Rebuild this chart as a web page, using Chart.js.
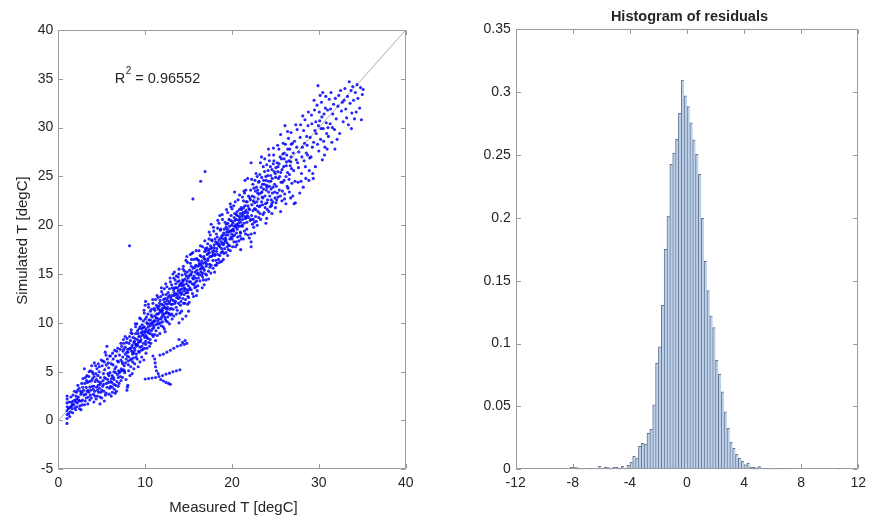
<!DOCTYPE html>
<html><head><meta charset="utf-8">
<script src="https://cdn.jsdelivr.net/npm/chart.js@4.4.0/dist/chart.umd.min.js"></script>
<style>
html,body{margin:0;padding:0;background:#fff;}
#wrap{position:relative;width:871px;height:521px;overflow:hidden;}
canvas{position:absolute;top:0;}
#c1{left:0;} #c2{left:435px;}
</style></head><body>
<div id="wrap">
<canvas id="c1" width="435" height="521"></canvas>
<canvas id="c2" width="436" height="521"></canvas>
</div>
<script>
// ---------- scatter data: [measured T, simulated T] ----------
const lowBand = [
[1.0,-0.3],[1.0,0.2],[1.02,0.6],[1.0,1.0],[1.03,1.4],[1.0,1.8],[1.02,2.2],[1.01,2.5],[1.2,0.7],[1.3,1.3],[1.4,0.9],[1.5,1.9],[1.6,1.2],[1.7,2.6],[1.8,1.6],[1.9,2.1],[2.0,1.1],[2.1,2.9],[2.2,1.8],[2.3,2.4],[2.4,3.3],[2.5,1.5],[2.6,2.7],[2.7,3.8],[2.8,2.1],[2.9,3.1],[1.25,1.9],[1.45,2.4],[1.65,0.8],[1.85,3.0],[2.05,2.5],[2.25,3.6],[2.45,1.2],[2.65,2.0],[2.85,4.3],[2.95,2.6],[1.15,1.2],[1.55,1.5],[2.15,1.4],[2.35,2.1],[2.55,3.0],[2.75,1.6],
[3.0,5.3],[3.1,2.0],[3.2,3.4],[3.3,4.6],[3.4,1.7],[3.5,2.9],[3.6,4.0],[3.7,5.1],[3.8,2.3],[3.9,3.5],[4.0,4.8],[4.1,1.9],[4.2,3.0],[4.3,5.6],[4.4,4.2],[4.5,2.5],[4.6,3.6],[4.7,5.0],[4.8,1.7],[4.9,2.9],[3.15,2.7],[3.35,3.9],[3.55,5.0],[3.75,3.1],[3.95,4.3],[4.15,5.9],[4.35,2.2],[4.55,4.6],[4.75,3.3],[4.95,6.2],[3.05,3.8],[3.45,2.4],[3.65,3.4],[3.85,5.6],[4.05,2.7],[4.25,4.0],[4.45,5.3],[4.65,2.9],[4.85,4.4],[4.9,3.9],[3.25,4.1],[3.7,2.6],[4.1,3.5],[4.6,5.8],[4.8,3.7],
[5.0,2.3],[5.1,3.5],[5.2,4.8],[5.3,6.0],[5.4,7.0],[5.5,2.8],[5.6,7.6],[5.7,4.2],[5.8,5.4],[5.9,3.3],[6.0,6.6],[6.1,2.5],[6.2,4.6],[6.3,5.7],[6.4,3.7],[6.5,7.2],[6.6,4.9],[6.7,3.0],[6.8,6.1],[6.9,4.4],[5.05,5.6],[5.25,3.0],[5.45,4.3],[5.65,6.3],[5.85,2.7],[6.05,4.0],[6.25,6.9],[6.45,3.2],[6.65,5.5],[6.85,7.4],[5.15,4.1],[5.35,5.2],[5.55,3.8],[5.75,5.9],[5.95,4.9],[6.15,3.9],[6.35,4.4],[6.55,2.8],[6.75,4.0],[6.95,5.1],[5.3,2.0],[5.8,3.9],[6.2,3.4],[6.6,6.6],[6.9,3.5],[5.5,6.7],[6.1,5.8],[6.4,5.0],
[7.0,3.8],[7.1,5.0],[7.2,6.2],[7.3,7.6],[7.4,4.4],[7.5,8.3],[7.6,5.6],[7.7,6.8],[7.8,4.2],[7.9,3.1],[7.95,3.4],[8.0,7.3],[8.1,5.1],[8.2,8.6],[8.3,6.2],[8.4,9.3],[8.5,4.8],[8.6,7.0],[8.7,8.0],[8.8,5.8],[8.9,9.6],[7.05,6.7],[7.25,5.3],[7.45,7.1],[7.65,4.9],[7.85,8.0],[8.05,6.1],[8.25,4.6],[8.45,7.5],[8.65,6.4],[8.85,8.4],[7.15,4.5],[7.35,6.0],[7.55,7.3],[7.75,5.9],[7.95,6.6],[8.15,7.9],[8.35,5.5],[8.55,6.8],[8.75,7.4],[8.95,6.5],[7.5,5.2],[7.9,7.0],[8.3,7.3],[8.7,5.3],[8.0,3.6],[7.2,7.9],[8.9,7.8],[8.5,8.9],[7.7,8.6],[8.2,17.9]
];
const lowCore = [
[1.32,0.4],[1.62,1.7],[1.92,1.3],[2.12,2.2],[2.42,2.0],[2.62,1.1],[2.82,3.4],[3.02,1.6],[3.22,2.3],[3.42,3.1],[3.62,2.1],[3.82,4.1],[4.02,3.2],[4.22,2.5],[4.42,3.4],[4.62,4.0],[4.82,2.4],[5.02,3.1],[5.22,3.7],[5.42,2.6],[5.62,3.4],[5.82,4.6],[6.02,3.5],[6.22,2.9],[6.42,4.2],[6.62,3.6],[6.82,4.7],[7.02,4.9],[7.22,4.1],[7.42,5.8],[7.62,5.1],[7.82,6.3],[3.12,4.4],[3.52,4.5],[3.92,5.0],[4.32,4.8],[4.72,5.5],[5.12,6.1],[5.52,5.7],[5.92,6.6],[6.32,6.3],[6.72,7.1],[7.12,7.3],[7.52,7.9],[7.92,8.4],[2.22,3.1],[2.72,2.9],[4.12,4.5],[5.72,4.8],[6.12,4.3],[6.52,5.3],[6.92,6.0],[7.32,5.1],[7.72,7.5],[7.42,6.5],[5.32,4.4],[4.52,3.1],[3.32,3.0],[2.02,1.9],[1.72,2.0],[1.42,1.4]
];
const midBand = [
[9.0,6.8],[9.1,8.3],[9.2,5.5],[9.3,9.4],[9.4,7.5],[9.5,10.4],[9.6,6.5],[9.7,8.8],[9.8,7.9],[9.9,11.0],[10.0,9.2],[10.1,6.9],[10.2,10.0],[10.3,8.4],[10.4,11.6],[10.5,7.6],[10.6,9.7],[10.7,10.8],[10.8,8.8],[10.9,12.0],[9.05,9.9],[9.25,7.1],[9.45,8.6],[9.65,9.8],[9.85,6.2],[10.05,8.1],[10.25,9.1],[10.45,10.3],[10.65,7.9],[10.85,9.4],[9.15,7.7],[9.35,8.1],[9.55,9.0],[9.75,7.3],[9.95,8.5],[10.15,10.6],[10.35,9.6],[10.55,8.9],[10.75,11.4],[10.95,10.1],[9.4,6.0],[9.8,10.2],[10.2,7.4],[10.0,11.8],[10.05,12.2],[10.6,11.2],[9.6,9.4],[10.4,9.0],[10.8,9.9],[9.2,8.9],[9.9,9.6],[10.1,8.7],
[11.0,9.5],[11.1,10.7],[11.2,8.2],[11.3,11.8],[11.4,9.9],[11.5,12.6],[11.6,10.4],[11.7,8.9],[11.8,11.3],[11.9,13.2],[12.0,10.1],[12.1,11.8],[12.2,9.4],[12.3,12.5],[12.4,11.0],[12.5,13.7],[12.6,10.6],[12.7,12.0],[12.8,9.9],[12.9,14.2],[11.05,11.5],[11.25,9.2],[11.45,10.9],[11.65,12.0],[11.85,9.7],[12.05,12.9],[12.25,10.6],[12.45,11.9],[12.65,13.1],[12.85,11.4],[11.15,10.2],[11.35,10.5],[11.55,11.4],[11.75,10.0],[11.95,11.1],[12.15,10.9],[12.35,11.5],[12.55,12.3],[12.75,10.9],[12.95,12.6],[11.2,12.4],[11.6,11.7],[12.0,11.3],[12.4,10.2],[12.8,13.5],[11.9,10.6],[12.3,9.1],[11.4,8.7],[12.6,11.6],[11.8,12.7],[12.2,13.5],
[13.0,11.5],[13.1,12.8],[13.2,15.0],[13.3,10.7],[13.4,13.6],[13.5,12.2],[13.6,14.8],[13.7,11.3],[13.8,13.3],[13.9,15.5],[14.0,12.6],[14.1,14.0],[14.2,11.2],[14.3,13.8],[14.4,15.8],[14.5,12.9],[14.6,14.5],[14.7,16.4],[14.8,13.4],[14.9,11.9],[13.05,13.9],[13.25,12.3],[13.45,14.4],[13.65,13.0],[13.85,12.0],[14.05,13.4],[14.25,14.9],[14.45,13.9],[14.65,12.4],[14.85,15.2],[13.15,11.9],[13.35,13.1],[13.55,13.6],[13.75,14.2],[13.95,13.8],[14.15,12.9],[14.35,12.5],[14.55,15.3],[14.75,14.0],[14.95,14.6],[13.6,10.9],[14.0,11.0],[13.3,14.6],[14.4,14.3],[14.8,16.8],[13.8,14.7],[14.2,13.1],[14.6,13.5],[13.1,10.4],[14.9,13.1],[13.9,10.0],[14.3,10.4],[14.7,10.7],[15.0,11.2],
[15.0,12.6],[15.1,14.2],[15.2,16.1],[15.3,13.4],[15.4,15.2],[15.5,17.2],[15.6,13.9],[15.7,15.7],[15.8,14.6],[15.9,16.6],[16.0,13.3],[16.1,15.1],[16.2,17.4],[16.3,14.3],[16.4,16.0],[16.5,14.9],[16.6,17.8],[16.7,15.6],[16.8,13.9],[16.9,16.5],[15.05,14.8],[15.25,14.9],[15.45,13.0],[15.65,16.5],[15.85,13.7],[16.05,15.8],[16.25,14.9],[16.45,16.8],[16.65,15.1],[16.85,17.3],[15.15,13.6],[15.35,16.5],[15.55,14.5],[15.75,14.1],[15.95,15.4],[16.15,16.4],[16.35,15.5],[16.55,15.8],[16.75,16.8],[16.95,15.0],[15.5,22.7],[16.4,24.5],[16.9,25.5],[15.9,12.8],[16.7,14.4],[15.2,17.0],
[17.0,14.4],[17.1,16.0],[17.2,18.1],[17.3,15.3],[17.4,17.2],[17.5,19.0],[17.6,15.9],[17.7,17.7],[17.8,16.4],[17.9,19.4],[18.0,15.2],[18.1,17.0],[18.2,19.1],[18.3,16.1],[18.4,18.2],[18.5,20.2],[18.6,16.9],[18.7,18.7],[18.8,17.6],[18.9,20.6],[17.05,17.4],[17.25,16.6],[17.45,15.7],[17.65,18.5],[17.85,17.1],[18.05,18.6],[18.25,17.6],[18.45,16.5],[18.65,19.5],[18.85,18.1],[17.15,17.0],[17.35,18.6],[17.55,17.6],[17.75,16.9],[17.95,18.0],[18.15,16.4],[18.35,19.7],[18.55,18.0],[18.75,17.2],[18.95,19.0],[17.6,20.1],[18.2,15.9],[18.8,16.3],[17.3,14.5],[18.6,21.0],
[19.0,16.5],[19.1,18.2],[19.2,20.3],[19.3,17.2],[19.4,19.3],[19.5,21.3],[19.6,18.0],[19.7,19.9],[19.8,17.4],[19.9,21.0],[20.0,18.6],[20.1,20.2],[20.2,22.0],[20.3,19.0],[20.4,17.8],[20.5,21.1],[20.6,19.6],[20.7,22.6],[20.8,18.4],[20.9,20.6],[19.05,19.2],[19.25,18.7],[19.45,17.8],[19.65,20.6],[19.85,19.4],[20.05,19.5],[20.25,20.8],[20.45,19.8],[20.65,18.8],[20.85,21.6],[19.15,17.6],[19.35,20.1],[19.55,19.0],[19.75,18.6],[19.95,20.0],[20.15,18.9],[20.35,20.5],[20.55,20.1],[20.75,20.2],[20.95,19.3],[19.5,16.9],[20.0,21.7],[20.5,18.3],[21.0,17.5],[19.8,22.2],[20.3,23.4],[20.6,21.4],[20.9,19.9],[19.3,18.5],[20.2,19.4]
];
const midCore = [
[8.02,7.0],[8.12,6.5],[8.22,7.4],[8.32,8.2],[8.42,6.3],[8.52,7.7],[8.62,8.5],[8.72,6.9],[8.82,7.2],[8.92,8.9],[9.02,7.8],[9.12,9.2],[9.22,8.0],[9.32,7.0],[9.42,9.6],[9.52,8.3],[9.62,7.6],[9.72,9.1],[9.82,8.7],[9.92,7.4],[10.02,10.4],[10.12,9.4],[10.22,8.5],[10.32,10.9],[10.42,8.0],[10.52,9.9],[10.62,10.3],[10.72,9.2],[10.82,10.6],[10.92,8.6],[11.02,10.2],[11.12,11.3],[11.22,9.8],[11.32,10.9],[11.42,11.6],[11.52,9.5],[11.62,11.0],[11.72,12.3],[11.82,10.4],[11.92,11.9],[12.02,10.8],[12.12,12.4],[12.22,11.6],[12.32,10.4],[12.42,12.9],[12.52,11.4],[12.62,12.6],[12.72,11.0],[12.82,12.2],[12.92,10.8],[13.02,12.4],[13.12,13.6],[13.22,11.4],[13.32,12.8],[13.42,12.0],[13.52,14.0],[13.62,12.6],[13.72,13.6],[13.82,12.5],[13.92,14.3],[14.02,13.9],[14.12,12.2],[14.22,13.5],[14.32,14.4],[14.42,12.0],[14.52,13.6],[14.62,15.0],[14.72,13.1],[14.82,14.3],[14.92,12.7],
[8.07,5.7],[8.57,6.0],[9.07,6.3],[9.57,7.2],[10.07,7.8],[10.57,8.3],[11.07,8.8],[11.57,9.9],[12.07,9.6],[12.57,10.1],[13.07,10.9],[13.57,11.6],[14.07,11.8],[14.57,12.0],[8.37,9.0],[8.87,9.9],[9.37,10.5],[9.87,11.3],[10.37,11.9],[10.87,12.4],[11.37,12.8],[11.87,13.6],[12.37,14.0],[12.87,14.6],[13.37,15.2],[13.87,15.0],[14.37,15.5],[14.87,16.2],
[8.47,7.1],[8.97,7.6],[9.47,8.1],[9.97,9.0],[10.47,9.3],[10.97,9.7],[11.47,10.2],[11.97,11.5],[12.47,11.1],[12.97,11.9],[13.47,12.9],[13.97,13.1],[14.47,13.3],[14.97,13.8],[8.77,8.1],[9.27,8.6],[9.77,9.5],[10.27,9.9],[10.77,10.0],[11.27,10.5],[11.77,11.2],[12.27,12.1],[12.77,12.8],[13.27,13.4],[13.77,12.8],[14.27,14.1],[14.77,14.8],
[15.02,13.4],[15.12,15.4],[15.22,14.2],[15.32,15.8],[15.42,14.0],[15.52,15.6],[15.62,14.8],[15.72,13.6],[15.82,15.9],[15.92,14.3],[16.02,16.5],[16.12,14.6],[16.22,15.9],[16.32,16.9],[16.42,15.2],[16.52,16.3],[16.62,14.7],[16.72,16.1],[16.82,15.4],[16.92,17.6],[17.02,15.8],[17.12,17.7],[17.22,16.4],[17.32,17.5],[17.42,16.0],[17.52,17.9],[17.62,16.8],[17.72,18.4],[17.82,15.6],[17.92,17.4],[18.02,16.9],[18.12,18.3],[18.22,17.3],[18.32,18.8],[18.42,17.0],[18.52,18.5],[18.62,17.8],[18.72,19.6],[18.82,18.9],[18.92,17.3],[19.02,18.0],[19.12,19.6],[19.22,18.4],[19.32,19.8],[19.42,18.2],[19.52,20.2],[19.62,19.3],[19.72,17.9],[19.82,20.5],[19.92,18.8],[20.02,20.4],[20.12,19.6],[20.22,18.3],[20.32,21.2],[20.42,20.0],[20.52,19.2],[20.62,21.0],[20.72,19.9],[20.82,20.9],[20.92,18.9],[21.02,20.3],[21.12,21.6],[21.22,20.6],[21.32,22.5],[21.42,19.4],[21.52,21.3],[21.62,22.4],[21.72,20.3],[21.82,22.0],[21.92,20.8],
[15.07,12.1],[15.57,12.7],[16.07,13.8],[16.57,13.6],[17.07,14.9],[17.57,15.1],[18.07,15.9],[18.57,16.2],[19.07,17.1],[19.57,17.5],[20.07,17.8],[20.57,18.0],[21.07,18.6],[21.57,19.1],[15.37,17.1],[15.87,17.4],[16.37,17.9],[16.87,18.4],[17.37,19.3],[17.87,19.8],[18.37,20.5],[18.87,21.1],[19.37,21.6],[19.87,21.9],[20.37,22.4],[20.87,23.1],[21.37,23.5],
[15.27,15.0],[15.77,15.2],[16.27,16.1],[16.77,16.6],[17.27,17.1],[17.77,17.3],[18.27,18.1],[18.77,18.3],[19.27,19.0],[19.77,19.4],[20.27,19.9],[20.77,20.5],[21.27,21.3],[21.77,21.0],[15.47,14.6],[15.97,15.0],[16.47,15.6],[16.97,16.2],[17.47,16.8],[17.97,17.7],[18.47,17.9],[18.97,18.6],[19.47,19.6],[19.97,19.1],[20.47,20.6],[20.97,21.2],[21.47,20.9]
];
const highBand = [
[21.0,19.2],[21.1,20.9],[21.2,22.9],[21.3,18.6],[21.4,20.2],[21.5,22.0],[21.6,23.6],[21.7,19.6],[21.8,21.3],[21.9,23.0],[22.0,18.7],[22.1,20.5],[22.2,17.8],[22.2,18.3],[22.3,22.1],[22.4,24.2],[22.5,19.8],[22.6,21.7],[22.7,23.5],[22.8,20.4],[22.9,25.0],[21.05,21.8],[21.25,21.1],[21.45,23.3],[21.65,20.8],[21.85,19.0],[22.05,22.8],[22.25,21.0],[22.45,20.6],[22.65,24.6],[22.85,22.4],[21.15,20.0],[21.35,21.8],[21.55,20.7],[21.75,22.4],[21.95,21.7],[22.15,23.6],[22.35,20.1],[22.55,22.9],[22.75,21.6],[22.95,23.3],[22.2,26.4],[21.5,24.6],[21.2,19.9],[22.6,19.2],[21.8,24.8],[22.9,20.0],[22.2,19.1],[21.6,21.5],
[23.0,21.4],[23.1,23.2],[23.2,25.2],[23.3,20.6],[23.4,22.4],[23.5,24.2],[23.6,26.0],[23.7,21.3],[23.8,23.0],[23.9,25.0],[24.0,20.7],[24.1,22.6],[24.2,24.5],[24.3,26.6],[24.4,21.9],[24.5,23.7],[24.6,25.7],[24.7,22.4],[24.8,27.2],[24.9,24.2],[23.05,24.4],[23.25,22.0],[23.45,23.4],[23.65,24.6],[23.85,22.2],[24.05,23.9],[24.25,21.4],[24.45,25.1],[24.65,23.3],[24.85,25.5],[23.15,21.9],[23.35,23.9],[23.55,22.8],[23.75,25.5],[23.95,23.6],[24.15,25.6],[24.35,23.0],[24.55,22.0],[24.75,26.3],[24.95,22.8],[23.4,27.0],[24.2,27.8],[23.9,20.2],[24.6,21.2],[24.0,26.2],
[25.0,21.8],[25.1,24.0],[25.2,26.4],[25.3,22.9],[25.4,27.8],[25.5,25.0],[25.6,21.4],[25.7,26.8],[25.8,23.5],[25.9,28.4],[26.0,24.6],[26.1,30.2],[26.2,22.2],[26.3,27.2],[26.4,25.4],[26.5,28.9],[26.6,23.4],[26.7,26.1],[26.8,29.5],[26.9,24.3],[25.05,25.9],[25.25,28.2],[25.45,23.6],[25.65,24.4],[25.85,27.3],[26.05,22.7],[26.25,26.1],[26.45,23.8],[26.65,27.8],[26.85,25.8],[25.15,22.6],[25.35,24.8],[25.55,27.0],[25.75,22.5],[25.95,26.0],[26.15,28.3],[26.35,24.0],[26.55,26.6],[26.75,22.8],[26.95,28.4],[25.6,29.3],[26.4,29.6],[26.0,26.8],[25.3,26.0],[26.8,27.0],
[27.0,23.0],[27.1,25.6],[27.2,28.6],[27.3,22.3],[27.4,26.7],[27.5,29.8],[27.6,24.4],[27.7,27.5],[27.8,23.3],[27.9,30.3],[28.0,25.3],[28.1,28.0],[28.2,23.9],[28.3,26.6],[28.4,30.8],[28.5,24.8],[28.6,29.1],[28.7,27.2],[28.8,31.6],[28.9,25.6],[27.05,27.4],[27.25,24.5],[27.45,28.0],[27.65,25.9],[27.85,29.0],[28.05,27.0],[28.25,29.7],[28.45,26.0],[28.65,28.2],[28.85,24.6],[27.15,22.2],[27.55,26.4],[27.95,24.5],[28.35,28.4],[28.75,30.2],[27.35,30.3],[28.15,31.2],[28.55,27.4],[29.0,29.0],[28.95,26.9],
[29.1,27.0],[29.2,30.4],[29.3,25.3],[29.4,28.5],[29.5,31.8],[29.6,26.0],[29.7,29.4],[29.8,32.3],[29.9,34.3],[30.0,27.6],[30.1,30.7],[30.2,28.8],[30.3,32.6],[30.4,26.7],[30.5,29.9],[30.6,31.4],[30.7,28.0],[30.8,33.2],[30.9,29.4],[31.0,31.8],[29.25,28.0],[29.45,32.8],[29.65,30.6],[29.85,28.3],[30.05,31.6],[30.25,29.9],[30.45,33.6],[30.65,27.2],[30.85,30.5],[29.15,31.3],[29.55,29.7],[29.95,30.2],[30.35,31.1],[30.75,32.0],[29.35,24.8],[30.15,33.3],[30.55,28.6],[30.95,27.8],
[31.1,29.1],[31.2,32.9],[31.3,30.4],[31.4,33.6],[31.5,28.5],[31.6,31.4],[31.7,32.4],[31.8,29.8],[31.9,33.0],[32.0,30.9],[32.2,32.2],[32.4,29.4],[32.5,33.8],[32.6,31.7],[32.8,30.6],[32.9,32.8],[33.0,34.0],[33.2,31.0],[33.3,33.2],[33.4,30.3],[33.5,34.7],[33.6,32.5],[33.7,33.8],[33.8,31.5],[33.9,34.2],[34.0,32.8],[34.2,33.6],[34.3,31.6],[34.4,34.4],[34.5,33.0],[34.7,32.0],[34.8,34.1],[35.0,33.4],[35.1,33.9],[34.9,30.8],[31.05,30.0],[31.55,30.0],[32.1,28.8],[32.7,32.6],[33.1,31.9],[31.35,31.9],[32.3,33.3],[34.1,30.9],[33.75,29.9],[31.85,27.8]
];
const highCore = [
[22.02,21.6],[22.12,22.6],[22.22,20.6],[22.32,23.0],[22.42,21.5],[22.52,23.8],[22.62,22.3],[22.72,20.9],[22.82,23.9],[22.92,22.0],[23.02,22.7],[23.12,24.5],[23.22,21.2],[23.32,23.3],[23.42,24.9],[23.52,22.1],[23.62,23.7],[23.72,24.2],[23.82,21.8],[23.92,24.6],[24.02,22.3],[24.12,25.1],[24.22,23.4],[24.32,24.0],[24.42,26.0],[24.52,22.6],[24.62,24.8],[24.72,23.9],[24.82,26.6],[24.92,23.4],[25.02,24.9],[25.22,23.3],[25.42,26.3],[25.62,25.4],[25.82,24.4],[26.02,27.4],[26.22,25.0],[26.42,27.8],[26.62,25.2],[26.82,28.3],
[22.27,24.7],[22.77,25.3],[23.27,26.4],[23.77,26.8],[24.27,27.2],[24.77,27.9],[22.57,20.3],[23.07,20.8],[23.57,21.1],[24.07,21.6],[24.57,22.2],[25.07,22.3],[25.57,23.0],[26.07,23.2],[26.57,24.7],[25.27,25.5],[25.77,25.7],[26.27,26.5],[26.77,26.5],[22.47,22.5],[22.97,23.6],[23.47,22.9],[23.97,24.1],[24.47,24.5],[24.97,25.3]
];
const streaks = [
[10.0,4.25],[10.4,4.3],[10.8,4.35],[11.2,4.4],[11.6,4.5],[12.0,4.6],[12.4,4.75],[12.8,4.85],[13.2,5.0],[13.6,5.1],[14.0,5.2],[11.8,4.2],[12.1,4.05],[12.4,3.9],[12.7,3.8],[12.9,3.7],[11.1,6.3],[11.15,5.9],[11.2,5.5],[11.3,5.1],[11.5,4.8],[11.7,6.7],[12.1,6.8],[12.5,7.0],[12.9,7.2],[13.3,7.4],[13.7,7.6],[14.1,7.7],[14.5,7.8],[14.8,7.9],[14.6,8.2],[10.9,6.6],[13.9,8.3],[14.3,8.0]
];
const identityLine = [0, 40];
const rSquared = '0.96552';

// ---------- histogram data (pdf normalisation) ----------
const binStart = -8.2;
const binWidth = 0.2;
const residualDensity = [
0.0016,0.0016,0.0013,0.0005,0.0005,0.0003,0.0008,0.0008,0.0003,0.0003,
0.0024,0.0005,0.0016,0.0013,0.0008,0.0016,0.0016,0.0008,0.0024,0.0008,
0.0032,0.0055,0.0104,0.0090,0.0183,0.0207,0.0201,0.0286,0.0318,0.0512,
0.0843,0.0975,0.1305,0.1750,0.2015,0.2426,0.2514,0.2625,0.2832,0.3097,
0.2970,0.2885,0.2757,0.2620,0.2506,0.2347,0.1997,0.1655,0.1422,0.1220,
0.1127,0.0867,0.0755,0.0617,0.0458,0.0326,0.0214,0.0167,0.0119,0.0087,
0.0065,0.0035,0.0048,0.0018,0.0015,0.0012,0.0022,0.0010,0.0008,0.0006,
0.0006,0.0005,0.0005,0.0004,0.0006,0.0003,0.0003,0.0005,0,0,
0,0,0,0,0,0,0,0,0,0,
0,0,0,0,0.0005
];

const scatterTicksX = [0, 40, 10];
const scatterTicksY = [-5, 40, 5];
const histTicksX = [-12, 12, 4];
const histTicksY = [0, 0.35, 0.05];

// ---------- styling ----------
const FONT = '"Liberation Sans", Arial, Helvetica, sans-serif';
const TXT = '#262626';
const AXC = 'rgb(155,155,155)';
const TL = 4.5;
Chart.defaults.font.family = FONT;
Chart.defaults.color = TXT;

function fmt(v){ return String(+(+v).toFixed(2)); }

const framePlugin = {
  id: 'frame',
  afterDraw(chart, args, opts) {
    const {ctx, chartArea: a} = chart;
    const xs = chart.scales.x, ys = chart.scales.y;
    ctx.save();
    ctx.strokeStyle = AXC; ctx.lineWidth = 1;
    const L = Math.round(a.left) + 0.5, R = Math.round(a.right) - 0.5;
    const T = Math.round(a.top) + 0.5, B = Math.round(a.bottom) - 0.5;
    ctx.beginPath();
    ctx.rect(L, T, R - L, B - T);
    xs.ticks.forEach(t => {
      const p = Math.round(xs.getPixelForValue(t.value)) + 0.5;
      ctx.moveTo(p, B); ctx.lineTo(p, B - TL);
      ctx.moveTo(p, T); ctx.lineTo(p, T + TL);
    });
    ys.ticks.forEach(t => {
      const p = Math.round(ys.getPixelForValue(t.value)) + 0.5;
      ctx.moveTo(L, p); ctx.lineTo(L + TL, p);
      ctx.moveTo(R, p); ctx.lineTo(R - TL, p);
    });
    ctx.stroke();
    ctx.fillStyle = TXT;
    const cx = (a.left + a.right) / 2;
    if (opts.xTitle) {
      ctx.font = '15px ' + FONT;
      ctx.textAlign = 'center'; ctx.textBaseline = 'alphabetic';
      ctx.fillText(opts.xTitle, cx + 1.5, 511.5);
    }
    if (opts.yTitle) {
      ctx.save();
      ctx.translate(27, 240.5);
      ctx.rotate(-Math.PI / 2);
      ctx.font = '15px ' + FONT;
      ctx.textAlign = 'center'; ctx.textBaseline = 'alphabetic';
      ctx.fillText(opts.yTitle, 0, 0);
      ctx.restore();
    }
    if (opts.title) {
      ctx.font = 'bold 14.5px ' + FONT;
      ctx.textAlign = 'center'; ctx.textBaseline = 'alphabetic';
      ctx.fillText(opts.title, cx + 2.5, 20.5);
    }
    if (opts.rText) {
      const px = xs.getPixelForValue(opts.rText.x), py = ys.getPixelForValue(opts.rText.y);
      ctx.textAlign = 'left'; ctx.textBaseline = 'alphabetic';
      ctx.font = '14.5px ' + FONT;
      ctx.fillText('R', px, py);
      let w = ctx.measureText('R').width;
      ctx.font = '10px ' + FONT;
      ctx.fillText('2', px + w + 0.5, py - 9);
      w += ctx.measureText('2').width + 0.5;
      ctx.font = '14.5px ' + FONT;
      ctx.fillText(' = ' + opts.rText.text, px + w, py);
    }
    ctx.restore();
  }
};

function axisBase(range, cb) {
  return {
    type: 'linear', min: range[0], max: range[1],
    grid: { display: false, drawTicks: false },
    border: { display: false },
    ticks: { stepSize: range[2], font: { size: 14 }, color: TXT, callback: cb || fmt }
  };
}

// ---------- left: scatter ----------
const scatterPoints = lowBand.concat(lowCore, midBand, midCore, highBand, highCore, streaks)
  .map(p => ({ x: p[0], y: p[1] }));
const sx = axisBase(scatterTicksX);
sx.ticks.padding = 5;
sx.afterFit = s => { s.height = 521 - 469.3; };
const sy = axisBase(scatterTicksY);
sy.ticks.padding = 5;
sy.afterFit = s => { s.width = 58.3; };

new Chart(document.getElementById('c1'), {
  type: 'scatter',
  data: {
    datasets: [
      { data: scatterPoints, pointRadius: 1.55, pointBorderWidth: 0,
        backgroundColor: 'rgba(0,0,255,0.85)', pointHoverRadius: 0 },
      { type: 'line', data: identityLine.map(v => ({ x: v, y: v })),
        borderColor: 'rgb(150,150,150)', borderWidth: 0.8, pointRadius: 0, fill: false }
    ]
  },
  options: {
    responsive: false, animation: false, events: [],
    layout: { padding: { left: 0, right: 435 - 405.7, top: 30, bottom: 0 } },
    scales: { x: sx, y: sy },
    plugins: {
      legend: { display: false }, tooltip: { enabled: false },
      frame: { xTitle: 'Measured T [degC]', yTitle: 'Simulated T [degC]',
               rText: { x: 6.5, y: 34.6, text: rSquared } }
    }
  },
  plugins: [framePlugin]
});

// ---------- right: histogram ----------
const histBars = residualDensity.map((h, i) => ({ x: +(binStart + binWidth * (i + 0.5)).toFixed(2), y: h }));
const hx = axisBase(histTicksX);
hx.offset = false;
hx.ticks.padding = 5;
hx.afterFit = s => { s.height = 521 - 469.3; };
const hy = axisBase(histTicksY);
hy.ticks.padding = 5;
hy.afterFit = s => { s.width = 515.7 - 435; };

new Chart(document.getElementById('c2'), {
  type: 'bar',
  data: {
    datasets: [{
      data: histBars,
      backgroundColor: 'rgb(188,210,236)',
      borderColor: 'rgb(100,116,142)',
      borderWidth: { top: 1, left: 1, right: 0, bottom: 0 },
      borderSkipped: false,
      barPercentage: 1, categoryPercentage: 1
    }]
  },
  options: {
    responsive: false, animation: false, events: [],
    layout: { padding: { left: 0, right: 436 - 862.3 + 435, top: 29.3, bottom: 0 } },
    scales: { x: hx, y: hy },
    plugins: {
      legend: { display: false }, tooltip: { enabled: false },
      frame: { title: 'Histogram of residuals' }
    }
  },
  plugins: [framePlugin]
});
</script>
</body></html>
